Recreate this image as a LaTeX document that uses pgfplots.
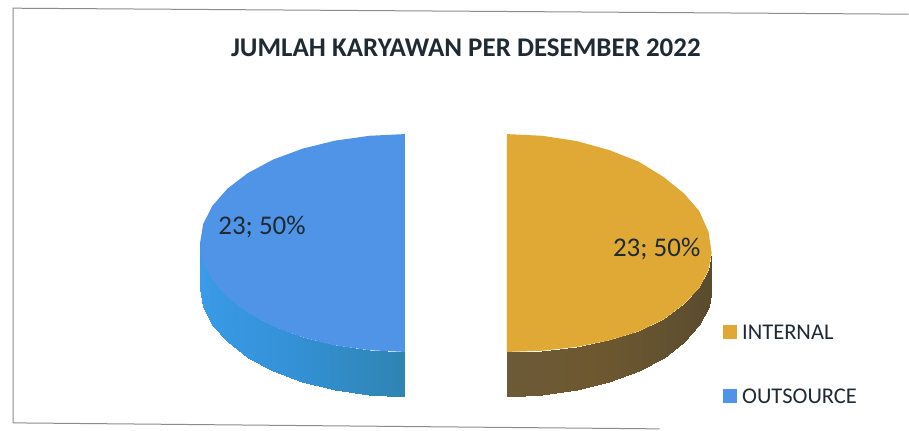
\documentclass[border=0pt]{standalone}
\usepackage{fontspec}
\setmainfont{Carlito}
\usepackage{pgfplots}
\usepackage{pgfplotstable}
\pgfplotsset{compat=1.18}
\definecolor{gold}{HTML}{E0A936}
\definecolor{sky}{HTML}{4F94E6}
\definecolor{ink}{HTML}{1F2A33}

\pgfplotsset{
  colormap={bluewall}{rgb255=(58,155,232) rgb255=(52,145,215) rgb255=(46,132,178)},
  colormap={brownwall}{rgb255=(108,90,56) rgb255=(110,88,48) rgb255=(96,80,48) rgb255=(88,74,44)},
}

% side walls: first ten rows upper edge, next ten lower edge, c = position along the wall
\pgfplotstableread{
x y c
200 243 0.00
203.1 261.9 0.00
212.4 280.3 0.10
227.5 297.5 0.20
248 313.1 0.30
273.2 326.5 0.40
302.5 337.4 0.55
334.9 345.4 0.70
369.4 350.3 0.85
405 352 1.00
200 288 0.00
203.1 306.9 0.00
212.4 325.3 0.10
227.5 342.5 0.20
248 358.1 0.30
273.2 371.5 0.40
302.5 382.4 0.55
334.9 390.4 0.70
369.4 395.3 0.85
405 397 1.00
}\leftwall
\pgfplotstableread{
x y c
507 352 0.00
542.6 350.8 0.15
577.1 347 0.30
609.5 340.5 0.40
638.8 331.5 0.50
664 319.5 0.60
684.5 304 0.70
699.6 288 0.85
708.9 270 0.95
712 253 1.00
507 397 0.00
542.6 395.3 0.15
577.1 390.4 0.30
609.5 382.4 0.40
638.8 371.5 0.50
664 358.1 0.60
684.5 342.5 0.70
699.6 325.3 0.85
708.9 306.9 0.95
712 288 1.00
}\rightwall

\begin{document}
\begin{tikzpicture}
\begin{axis}[
  scale only axis, width=909pt, height=430pt,
  xmin=0, xmax=909, ymin=0, ymax=430, y dir=reverse,
  hide axis, clip=false,
  point meta min=0, point meta max=1,
  wall quads/.style={
    patch, patch type=rectangle, shader=interp, point meta=explicit, forget plot,
    table/row sep=crcr,
    patch table={0 1 11 10\\ 1 2 12 11\\ 2 3 13 12\\ 3 4 14 13\\ 4 5 15 14\\ 5 6 16 15\\ 6 7 17 16\\ 7 8 18 17\\ 8 9 19 18\\},
  },
]
% page
\addplot[white, fill=white, forget plot] coordinates {(0,0) (909,0) (909,430) (0,430)} \closedcycle;
% frame: scan shows only the left, top and bottom edges
\addplot[color=black!45, line width=1pt, forget plot] coordinates {(909,14) (13,8) (13,423) (660,429)};

% walls
\addplot[wall quads, colormap name=bluewall] table[meta=c] {\leftwall};
\addplot[wall quads, colormap name=brownwall] table[meta=c] {\rightwall};

% top faces
\addplot[draw=none, fill=sky, forget plot] coordinates {
  (405,134) (369.4,135.7) (334.9,140.6) (302.5,148.6) (273.2,159.5) (248,172.9)
  (227.5,188.5) (212.4,205.7) (203.1,224.1) (200,243) (203.1,261.9) (212.4,280.3)
  (227.5,297.5) (248,313.1) (273.2,326.5) (302.5,337.4) (334.9,345.4) (369.4,350.3) (405,352)
} -- cycle;
\addplot[draw=none, fill=gold, forget plot] coordinates {
  (507,134) (542.6,135.7) (577.1,141) (609.5,150) (638.8,161.5) (664,177)
  (684.5,193.5) (699.6,211) (708.9,232) (712,253) (708.9,270) (699.6,288)
  (684.5,304) (664,319.5) (638.8,331.5) (609.5,340.5) (577.1,347) (542.6,350.8) (507,352)
} -- cycle;

% legend keys
\addplot[only marks, mark=square*, mark size=6.5pt, color=gold, forget plot] coordinates {(730,332)};
\addplot[only marks, mark=square*, mark size=6.5pt, color=sky, forget plot] coordinates {(730,396)};

\node[font=\bfseries\fontsize{27}{27}\selectfont, text=ink] at (axis cs:466,48) {JUMLAH KARYAWAN PER DESEMBER 2022};
\node[font=\fontsize{27}{27}\selectfont, text=ink] at (axis cs:262,227) {23; 50\%};
\node[font=\fontsize{27}{27}\selectfont, text=ink] at (axis cs:657,249) {23; 50\%};
\node[font=\fontsize{22.5}{23}\selectfont, text=ink, anchor=west] at (axis cs:739,332) {INTERNAL};
\node[font=\fontsize{22.5}{23}\selectfont, text=ink, anchor=west] at (axis cs:739,396) {OUTSOURCE};
\end{axis}
\end{tikzpicture}
\end{document}
